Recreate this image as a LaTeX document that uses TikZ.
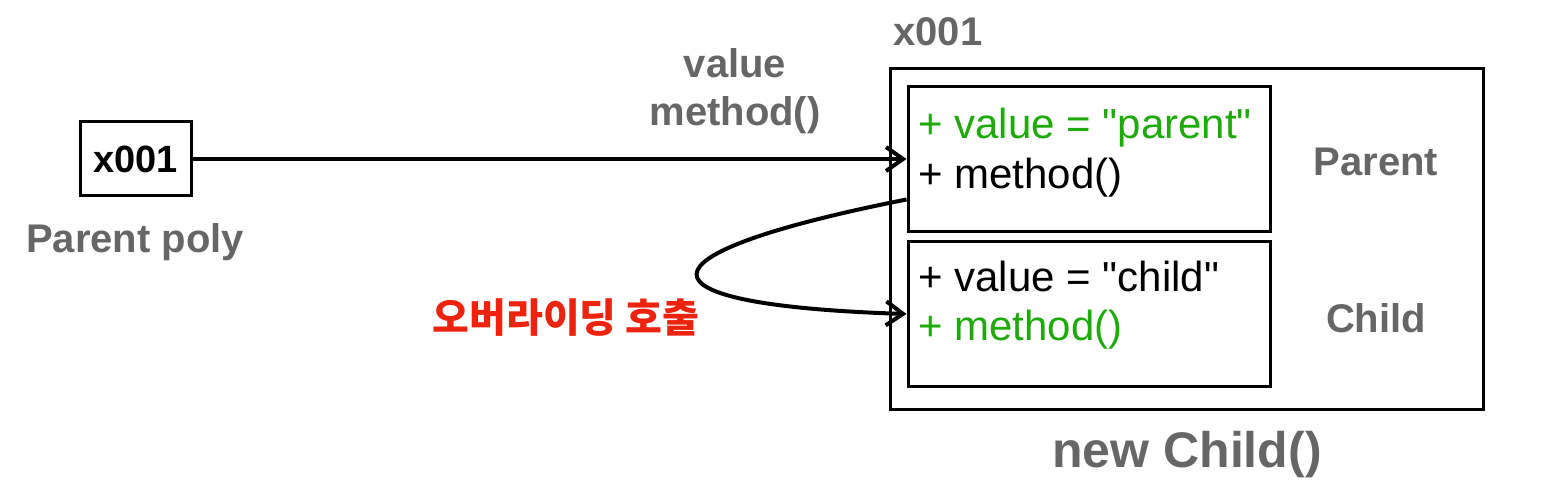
\documentclass[tikz,border=0pt]{standalone}
\usepackage{fontspec}
\setmainfont{Liberation Sans}
\newfontfamily\kofont{Noto Sans CJK KR}
\usetikzlibrary{arrows.meta,positioning}

\definecolor{lblgray}{RGB}{102,102,102}
\definecolor{fldgreen}{RGB}{30,170,10}
\definecolor{callred}{RGB}{235,35,15}

\tikzset{
  box/.style={draw=black,line width=1.5pt,inner sep=0pt},
  ref/.style={line width=2pt,-{Straight Barb[length=8.5pt,width=12pt]}},
  lbl/.style={text=lblgray,font=\fontsize{20}{24}\selectfont\bfseries,inner sep=0pt,align=center},
  member/.style={font=\fontsize{21}{25}\selectfont,inner sep=0pt,anchor=base west}
}

\begin{document}
\begin{tikzpicture}[x=0.5pt,y=0.5pt,yscale=-1,xscale=1]
\useasboundingbox (0,0) rectangle (1542,502);

%Shape: Rectangle [id:ptr] 
\node [box,minimum width=55.5pt,minimum height=37pt,font=\fontsize{19}{22}\selectfont\bfseries] (ptr) at (135.5,159) {x001};
\node [lbl] (polyLbl) at (135,242) {Parent poly};

%Shape: Rectangle [id:obj] 
\node [box,minimum width=296.5pt,minimum height=170pt] (obj) at (1186.5,239) {};
%Shape: Rectangle [id:parent] 
\node [box,minimum width=181pt,minimum height=72.5pt] (parent) at (1089,159.5) {};
%Shape: Rectangle [id:child] 
\node [box,minimum width=181pt,minimum height=72pt] (child) at (1089,314) {};

%Text members
\node [member,text=fldgreen] (pVal) at (918,139) {+ value = \textquotedbl parent\textquotedbl};
\node [member] (pMth) at (918,189) {+ method()};
\node [member] (cVal) at (918,292) {+ value = \textquotedbl child\textquotedbl};
\node [member,text=fldgreen] (cMth) at (918,340) {+ method()};

%Text labels
\node [lbl] (addrLbl) at (938,32) {x001};
\node [lbl] (accLbl) at (735,91) {value\\method()};
\node [lbl] (parentLbl) at (1376,162) {Parent};
\node [lbl] (childLbl) at (1376,318) {Child};
\node [lbl,font=\fontsize{25}{30}\selectfont\bfseries] (newLbl) at (1187,455) {new Child()};
\node [inner sep=0pt,text=callred,font=\fontsize{20}{24}\kofont\bfseries] (callLbl) at (566,318) {오버라이딩 호출};

%Straight Lines [id:ref] 
\draw [ref] (ptr.east) -- (parent.west |- ptr.east) ;
%Curve Lines [id:override] 
\draw [ref] ([yshift=20pt]parent.west) .. controls +(-278,55) and +(-280,-9) .. (child.west) ;

\end{tikzpicture}
\end{document}
